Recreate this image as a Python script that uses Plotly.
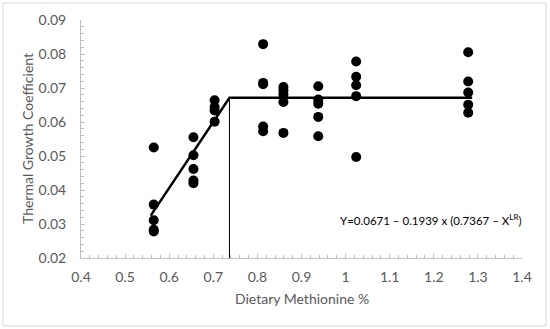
import plotly.graph_objects as go

# Observed data (Dietary Methionine %, Thermal Growth Coefficient)
met_levels = [0.565, 0.655, 0.703, 0.813, 0.859, 0.938, 1.024, 1.278]
tgc_values = [
    [0.0525, 0.0357, 0.0311, 0.0283, 0.0278],
    [0.0555, 0.0502, 0.0462, 0.0428, 0.0420],
    [0.0664, 0.0644, 0.0634, 0.0601],
    [0.0829, 0.0715, 0.0711, 0.0587, 0.0573],
    [0.0703, 0.0693, 0.0681, 0.0659, 0.0568],
    [0.0705, 0.0666, 0.0654, 0.0615, 0.0558],
    [0.0778, 0.0733, 0.0708, 0.0676, 0.0497],
    [0.0805, 0.0719, 0.0687, 0.0651, 0.0627],
]

# Broken-line model
plateau = 0.0671
slope = 0.1939
breakpoint = 0.7367
fit_x = [0.558, breakpoint, 1.287]
y_axis_min = 0.02

x_title = "Dietary Methionine %"
y_title = "Thermal Growth Coefficient"
equation = "Y=0.0671 \u2013 0.1939 x (0.7367 \u2013 X<sup>LR</sup>)"

xs, ys = [], []
for lvl, vals in zip(met_levels, tgc_values):
    for v in vals:
        xs.append(lvl)
        ys.append(v)

fit_y = [plateau - slope * max(breakpoint - x, 0) for x in fit_x]

fig = go.Figure()
fig.add_trace(go.Scatter(x=fit_x, y=fit_y, mode="lines",
                         line=dict(color="black", width=2.5), hoverinfo="skip"))
fig.add_trace(go.Scatter(x=[breakpoint, breakpoint], y=[y_axis_min, plateau], mode="lines",
                         line=dict(color="black", width=1), hoverinfo="skip"))
fig.add_trace(go.Scatter(x=xs, y=ys, mode="markers",
                         marker=dict(color="black", size=10)))

font_family = "Lato, 'Open Sans', sans-serif"
axis_common = dict(
    showgrid=False, zeroline=False, showline=True, linecolor="#bfbfbf", linewidth=1,
    ticks="inside", ticklen=4, tickcolor="#bfbfbf",
    tickfont=dict(family=font_family, size=14, color="#595959"),
    mirror=False, automargin=False,
)

fig.update_layout(
    width=550, height=329,
    margin=dict(l=81, r=28, t=20, b=71),
    paper_bgcolor="white", plot_bgcolor="white",
    showlegend=False,
    font=dict(family=font_family, color="#595959"),
    xaxis=dict(range=[0.4, 1.4], dtick=0.1, tickformat=".1~f", ticklabelstandoff=6,
               minor=dict(dtick=0.02, ticks="inside", ticklen=3, tickcolor="#bfbfbf"),
               **axis_common),
    yaxis=dict(range=[0.02, 0.09], dtick=0.01, tickformat=".2f", ticklabelstandoff=11,
               minor=dict(dtick=0.002, ticks="inside", ticklen=3, tickcolor="#bfbfbf"),
               **axis_common),
    annotations=[
        dict(x=0.983, y=0.0312, xref="x", yref="y", xanchor="left", yanchor="middle",
             text=equation, showarrow=False,
             font=dict(family=font_family, size=11.5, color="black")),
        dict(x=0.5, y=(258 - 298) / 238, xref="paper", yref="paper",
             xanchor="center", yanchor="middle", text=x_title, showarrow=False,
             font=dict(family=font_family, size=14, color="#595959")),
        dict(x=(27 - 81) / 441, y=0.5, xref="paper", yref="paper",
             xanchor="center", yanchor="middle", text=y_title, showarrow=False, textangle=-90,
             font=dict(family=font_family, size=14, color="#595959")),
    ],
    shapes=[dict(type="rect", xref="paper", yref="paper",
                 x0=-0.177, x1=1.0544, y0=-0.2857, y1=1.0714,
                 line=dict(color="#d9d9d9", width=1), layer="below")],
)

fig.write_html("out.html", config={"displayModeBar": False},
               post_script="document.body.style.margin='0';")
